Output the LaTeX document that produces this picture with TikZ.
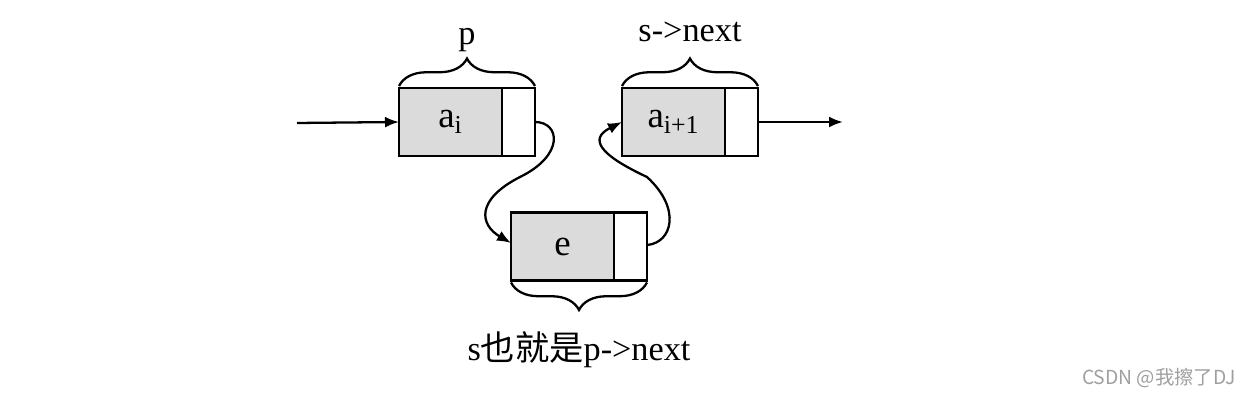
\documentclass[tikz,border=0pt]{standalone}
\usepackage{fontspec}
\setmainfont{Liberation Serif}
\newfontfamily\cjkfont{Noto Sans CJK SC}
\usetikzlibrary{arrows.meta}
\usetikzlibrary{positioning}
\usetikzlibrary{decorations.pathreplacing}

\tikzset{
  datacell/.style={draw, fill=gray!28, minimum width=2.06cm, minimum height=1.36cm,
    inner sep=0pt, outer sep=0pt, font=\fontsize{21}{24}\selectfont},
  ptrcell/.style={draw, fill=white, minimum width=0.66cm, minimum height=1.36cm,
    inner sep=0pt, outer sep=0pt, right=0pt of #1},
  cellbrace/.style={decorate, decoration={brace, amplitude=0.55cm, raise=0.04cm}},
  bracelabel/.style={anchor=base, font=\fontsize{19.5}{22}\selectfont},
}

\begin{document}
\begin{tikzpicture}[x=0.02cm, y=0.02cm, line width=1.3pt,
    >={Latex[length=0.28cm,width=0.22cm]}]
\useasboundingbox (0,0) rectangle (1249,405);

% the three list nodes
\node[datacell] (ai) at (450.5,283) {a\textsubscript{i}};
\node[ptrcell=ai] (ai next) {};
\node[datacell] (aj) at (673.5,283) {a\textsubscript{i+1}};
\node[ptrcell=aj] (aj next) {};
\node[datacell] (e) at (562.5,158.5) {e};
\node[ptrcell=e] (e next) {};

% free ends of the list
\coordinate (in) at (297,282);
\coordinate (out) at (843,283);
\draw[->] (in) -- (ai.west);
\draw[->] (aj next.east) -- (out);

% links through the new node
\draw[->] (ai next.east)
  .. controls (560,283) and (565,250) .. (520,228)
  .. controls (475,205) and (480,180) .. ([yshift=0.07cm]e.west);
\draw[->] ([yshift=0.03cm]e next.east)
  .. controls (672,162) and (682,196) .. (647,228)
  .. controls (600,250) and (588,266) .. (aj.west);

% braces
\draw[cellbrace] (ai.north west) -- (ai next.north east)
  node[bracelabel, midway, yshift=0.88cm] (p label) {p};
\draw[cellbrace] (aj.north west) -- (aj next.north east)
  node[bracelabel, midway, yshift=0.94cm] (s label) {s->next};
\draw[cellbrace] (e next.south east) -- (e.south west)
  node[bracelabel, midway, yshift=-1.6cm] (e label) {s{\cjkfont 也就是}p->next};

\node[anchor=base, font=\cjkfont\fontsize{11}{13}\selectfont, text=gray!75]
  (mark) at (1159,20) {CSDN @我擦了DJ};
\end{tikzpicture}
\end{document}
